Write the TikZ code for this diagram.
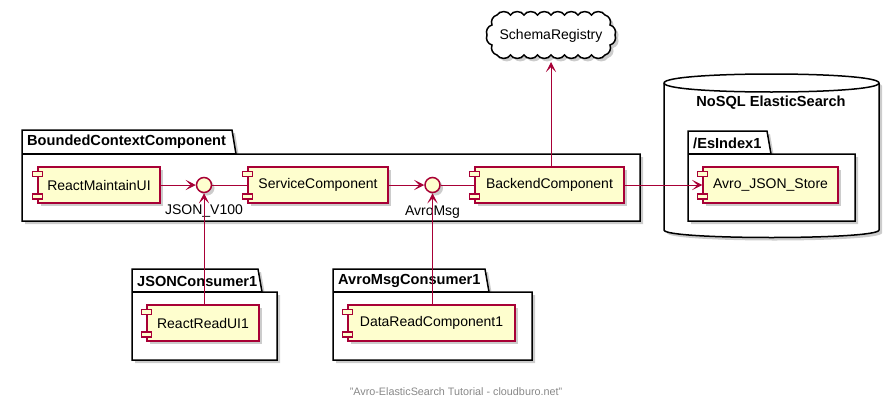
\documentclass[tikz,border=0pt]{standalone}
\usepackage{fontspec}
\setmainfont{Liberation Sans}
\usetikzlibrary{arrows.meta,shadows,calc}
\definecolor{plum}{HTML}{A80036}
\definecolor{compfill}{HTML}{FEFECE}
\definecolor{footgray}{HTML}{888888}
\newcommand\mypkg[6]{%
  \draw[pkgst] (#1,#3) -- (#1,#2) -- (#6,#2) -- ({#6+4},#3) -- (#5,#3) -- (#5,#4) -- (#1,#4) -- cycle;
  \draw[line width=1.5pt] (#1,#3) -- ({#6+4},#3);
}
\newcommand\compicons[1]{%
  \draw[smallr] ([xshift=-5pt,yshift=-5pt]#1.north west) rectangle ++(10pt,-5pt);
  \draw[smallr] ([xshift=-5pt,yshift=5pt]#1.south west) rectangle ++(10pt,5pt);
}
\begin{document}
\begin{tikzpicture}[x=1pt,y=-1pt,
  shad/.style={drop shadow={shadow xshift=3pt,shadow yshift=-3pt,fill=black,opacity=.2}},
  comp/.style={draw=plum, fill=compfill, line width=1.5pt, minimum height=36pt, inner sep=0pt,
               font=\fontsize{14}{16}\selectfont, shad},
  iface/.style={circle, draw=plum, fill=compfill, line width=1.5pt, minimum size=15pt, inner sep=0pt, shad},
  pkgst/.style={draw=black, fill=white, line width=1.5pt, shad},
  pkglabel/.style={font=\bfseries\fontsize{14.6}{16}\selectfont, anchor=west, inner sep=0pt},
  ilabel/.style={font=\fontsize{14}{16}\selectfont, inner sep=0pt},
  conn/.style={draw=plum, line width=1pt},
  arr/.style={conn, -{Stealth[length=10pt,width=10pt,inset=5pt]}},
  smallr/.style={draw=plum, fill=compfill, line width=1.5pt}]
\useasboundingbox (0,0) rectangle (889,407);

% packages
\mypkg{22}{130}{154}{221}{640}{232}
\node[pkglabel] (pbc) at (27,142) {BoundedContextComponent};
\mypkg{132}{269}{292}{360}{277}{258}
\node[pkglabel] (pjc) at (137,281) {JSONConsumer1};
\mypkg{333}{269}{292}{360}{532}{485}
\node[pkglabel] (pamc) at (338,281) {AvroMsgConsumer1};

% database
\draw[pkgst] (664,83) .. controls (664,71) and (879,71) .. (879,83) -- (879,230)
   .. controls (879,240) and (664,240) .. (664,230) -- cycle;
\draw[line width=1.5pt] (664,83) .. controls (664,95) and (879,95) .. (879,83);
\node[font=\bfseries\fontsize{14.6}{16}\selectfont, inner sep=0pt] (nosql) at (771,103) {NoSQL ElasticSearch};
\mypkg{688}{131}{154}{221}{855}{767}
\node[pkglabel] (pes) at (693,143) {/EsIndex1};

% cloud
\draw[line width=1.5pt, fill=white, shad] (497,15)
  \foreach \i in {1,...,8} { to[bend left=60] ({497+13.5*\i},15) }
  to[bend left=50] (610,25) to[bend left=50] (615,35) to[bend left=50] (610,45) to[bend left=50] (605,55)
  \foreach \i in {1,...,8} { to[bend left=60] ({605-13.5*\i},55) }
  to[bend left=50] (492,45) to[bend left=50] (487,35) to[bend left=50] (492,25) to[bend left=50] (497,15) -- cycle;
\node[ilabel] (schema) at (551,36) {SchemaRegistry};
\coordinate (schemabot) at (551,62);

% components
\node[comp, minimum width=122pt] (rmui) at (99,185) {ReactMaintainUI};
\node[comp, minimum width=140pt] (svc) at (318,185) {ServiceComponent};
\node[comp, minimum width=149pt] (backend) at (549.5,185) {BackendComponent};
\node[comp, minimum width=135pt] (store) at (770.5,185) {Avro\_JSON\_Store};
\node[comp, minimum width=112pt] (rrui) at (203,323) {ReactReadUI1};
\node[comp, minimum width=167pt] (drc) at (431.5,323) {DataReadComponent1};
\foreach \c in {rmui,svc,backend,store,rrui,drc} { \compicons{\c} }

% interfaces
\node[iface] (json) at (204,185) {};
\node[iface] (avro) at (432.5,185) {};
\node[ilabel] (jsonl) at (204,211) {JSON\_V100};
\node[ilabel] (avrol) at (432.5,212) {AvroMsg};

% connectors
\draw[arr] (rmui.east) -- (json.west);
\draw[conn] (json.east) -- (svc.west);
\draw[arr] (svc.east) -- (avro.west);
\draw[conn] (avro.east) -- (backend.west);
\draw[arr] (backend.east) -- (store.west);
\draw[arr] (backend.north -| schemabot) -- (schemabot);
\draw[arr] (json.south |- rrui.north) -- (json.south);
\draw[arr] (avro.south |- drc.north) -- (avro.south);

% footer
\node[font=\fontsize{10.8}{12}\selectfont, text=footgray, inner sep=0pt] (foot) at (456,392) {"Avro-ElasticSearch Tutorial - cloudburo.net"};
\end{tikzpicture}
\end{document}
